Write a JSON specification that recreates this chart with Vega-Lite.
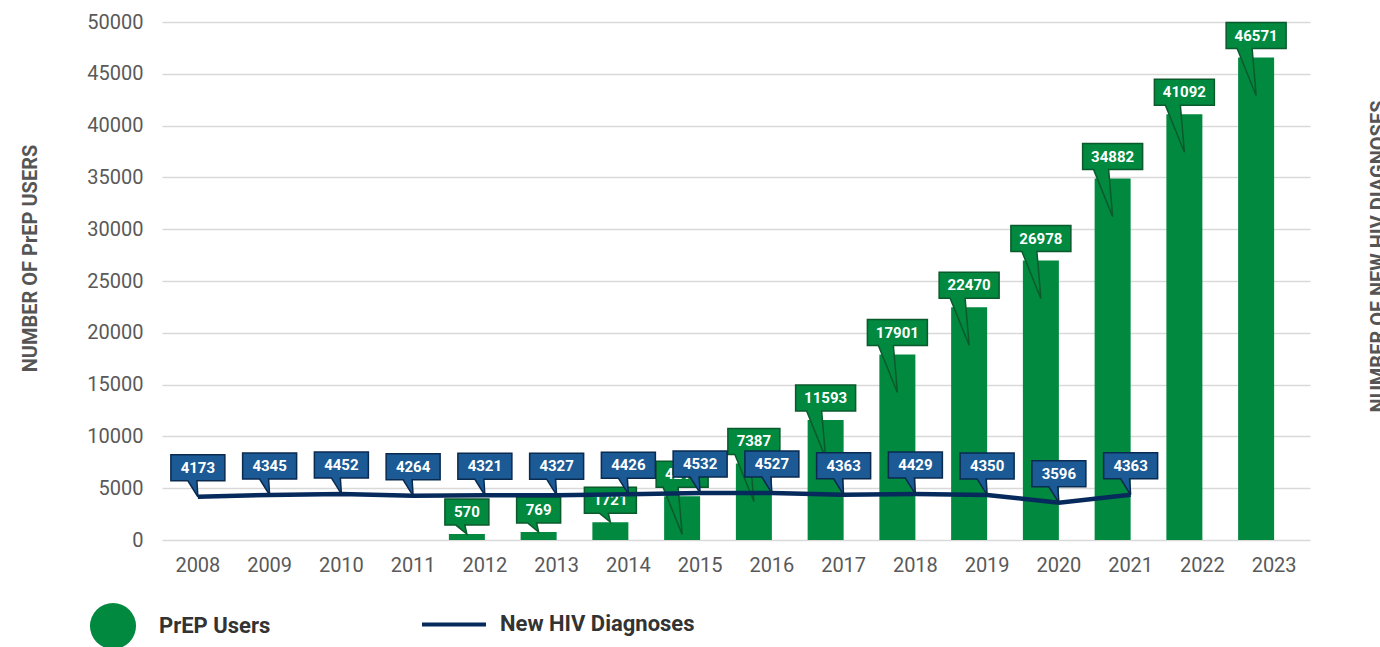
{
  "$schema": "https://vega.github.io/schema/vega-lite/v6.json",
  "width": 1148,
  "height": 518,
  "autosize": {"type": "none"},
  "padding": {"left": 162, "top": 22, "right": 70, "bottom": 107},
  "background": "white",
  "config": {
    "view": {"stroke": null},
    "font": "Roboto",
    "axis": {"labelFont": "Roboto", "titleFont": "Roboto"},
    "legend": {"labelFont": "Roboto"}
  },
  "data": {
    "values": [
      {"Year": "2008", "prep": null, "hiv": 4173},
      {"Year": "2009", "prep": null, "hiv": 4345},
      {"Year": "2010", "prep": null, "hiv": 4452},
      {"Year": "2011", "prep": null, "hiv": 4264},
      {"Year": "2012", "prep": 570, "hiv": 4321},
      {"Year": "2013", "prep": 769, "hiv": 4327},
      {"Year": "2014", "prep": 1721, "hiv": 4426},
      {"Year": "2015", "prep": 4211, "hiv": 4532},
      {"Year": "2016", "prep": 7387, "hiv": 4527},
      {"Year": "2017", "prep": 11593, "hiv": 4363},
      {"Year": "2018", "prep": 17901, "hiv": 4429},
      {"Year": "2019", "prep": 22470, "hiv": 4350},
      {"Year": "2020", "prep": 26978, "hiv": 3596},
      {"Year": "2021", "prep": 34882, "hiv": 4363},
      {"Year": "2022", "prep": 41092, "hiv": null},
      {"Year": "2023", "prep": 46571, "hiv": null}
    ]
  },
  "encoding": {
    "x": {
      "field": "Year", "type": "ordinal",
      "scale": {"paddingInner": 0, "paddingOuter": 0},
      "axis": {
        "title": null, "labelAngle": 0, "domain": false, "ticks": false, "grid": false,
        "labelFontSize": 20, "labelColor": "#595959", "labelPadding": 15
      }
    }
  },
  "layer": [
    {
      "mark": {"type": "bar", "width": 36, "xOffset": -18},
      "encoding": {
        "y": {
          "field": "prep", "type": "quantitative",
          "scale": {"domain": [0, 50000], "nice": false},
          "axis": {
            "values": [0, 5000, 10000, 15000, 20000, 25000, 30000, 35000, 40000, 45000, 50000],
            "format": "d", "domain": false, "ticks": false, "labelPadding": 19,
            "labelFontSize": 20, "labelColor": "#595959",
            "gridColor": "#d9d9d9", "gridWidth": 1.5,
            "title": "NUMBER OF PrEP USERS", "titleFontSize": 20, "titleFontWeight": "bold",
            "titleColor": "#555555", "titleAngle": 270, "titleX": -142, "titleY": 236,
            "titleAlign": "center", "titleBaseline": "top"
          }
        },
        "color": {
          "datum": "PrEP Users",
          "scale": {"domain": ["PrEP Users", "New HIV Diagnoses"], "range": ["#00893F", "#062A5C"]},
          "legend": {
            "orient": "none", "legendX": -81, "legendY": 570, "direction": "horizontal", "title": null,
            "labelFontSize": 22, "labelFontWeight": "bold", "labelColor": "#333333", "labelLimit": 400,
            "symbolSize": 2124, "labelOffset": 14, "columnPadding": 151, "symbolStrokeWidth": 0,
            "encode": {
              "symbols": {
                "update": {
                  "shape": {"signal": "datum.value === 'PrEP Users' ? 'circle' : 'M-1,-0.0625H1V0.0625H-1Z M0,-0.82L0,0.82'"},
                  "size": {"signal": "datum.value === 'PrEP Users' ? 2124 : 4096"},
                  "fill": {"signal": "datum.value === 'PrEP Users' ? '#00893F' : '#062A5C'"},
                  "stroke": {"value": "transparent"},
                  "strokeWidth": {"value": 0},
                  "opacity": {"value": 1}
                }
              }
            }
          }
        }
      }
    },
    {
      "transform": [{"filter": "isValid(datum.prep)"}],
      "mark": {"type": "point", "filled": true, "size": 10000, "xOffset": -18, "fill": "#00893F", "stroke": "#0B5A2C", "strokeWidth": 1.5, "opacity": 1},
      "encoding": {
        "y": {"field": "prep", "type": "quantitative", "scale": {"domain": [0, 50000], "nice": false}, "axis": null},
        "shape": {
          "condition": [
            {"test": "datum.prep < 1000", "value": "M-0.44,-0.7H0.44V-0.18H-0.04L0,0L-0.22,-0.18H-0.44Z"},
            {"test": "datum.prep < 2000", "value": "M-0.52,-0.7H0.52V-0.18H-0.04L0,0L-0.22,-0.18H-0.52Z"},
            {"test": "datum.prep < 10000", "value": "M-0.52,-0.7H0.52V-0.18H-0.08L0,0.76L-0.38,-0.18H-0.52Z"}
          ],
          "value": "M-0.6,-0.7H0.6V-0.18H-0.08L0,0.76L-0.38,-0.18H-0.6Z"
        }
      }
    },
    {
      "transform": [{"filter": "isValid(datum.prep)"}],
      "mark": {"type": "text", "dx": -18, "dy": -22, "baseline": "middle", "align": "center", "color": "white", "fontWeight": "bold", "fontSize": 15},
      "encoding": {
        "y": {"field": "prep", "type": "quantitative", "scale": {"domain": [0, 50000], "nice": false}, "axis": null},
        "text": {"field": "prep", "type": "quantitative", "format": "d"}
      }
    },
    {
      "mark": {"type": "line", "strokeWidth": 4.5},
      "encoding": {
        "y": {
          "field": "hiv", "type": "quantitative",
          "scale": {"domain": [0, 50000], "nice": false},
          "axis": {
            "orient": "right", "labels": false, "ticks": false, "domain": false, "grid": false,
            "title": "NUMBER OF NEW HIV DIAGNOSES", "titleFontSize": 20, "titleFontWeight": "bold",
            "titleColor": "#555555", "titleAngle": 270, "titleX": 58, "titleY": 234,
            "titleAlign": "center", "titleBaseline": "top"
          }
        },
        "color": {"datum": "New HIV Diagnoses"}
      }
    },
    {
      "transform": [{"filter": "isValid(datum.hiv)"}],
      "mark": {"type": "point", "filled": true, "size": 10000, "fill": "#1B5A94", "stroke": "#0A2A50", "strokeWidth": 1.5, "opacity": 1,
        "shape": "M-0.54,-0.84H0.54V-0.32H-0.02L0,0L-0.2,-0.32H-0.54Z"},
      "encoding": {
        "y": {"field": "hiv", "type": "quantitative", "scale": {"domain": [0, 50000], "nice": false}, "axis": null}
      }
    },
    {
      "transform": [{"filter": "isValid(datum.hiv)"}],
      "mark": {"type": "text", "dy": -29, "baseline": "middle", "align": "center", "color": "white", "fontWeight": "bold", "fontSize": 15},
      "encoding": {
        "y": {"field": "hiv", "type": "quantitative", "scale": {"domain": [0, 50000], "nice": false}, "axis": null},
        "text": {"field": "hiv", "type": "quantitative", "format": "d"}
      }
    }
  ],
  "resolve": {"scale": {"y": "independent"}}
}
